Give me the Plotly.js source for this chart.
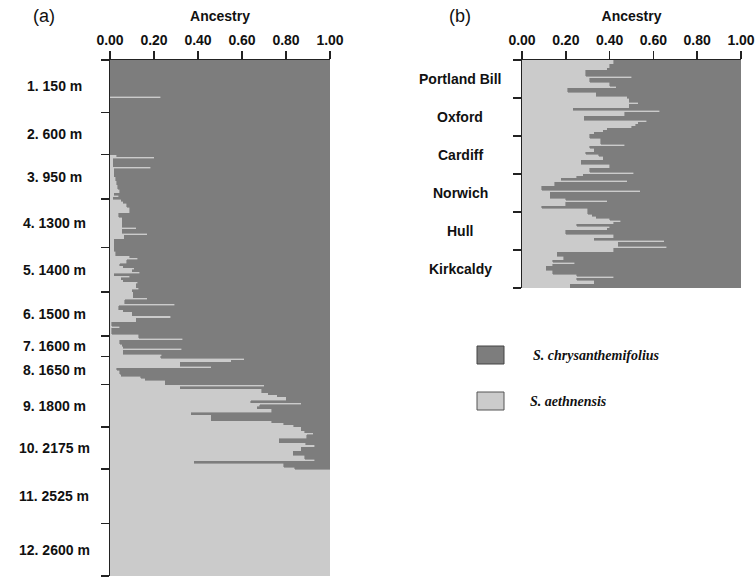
<!DOCTYPE html>
<html><head><meta charset="utf-8">
<script src="https://cdn.plot.ly/plotly-3.0.1.min.js"></script>
<style>html,body{margin:0;padding:0;background:#fff}#chart{width:756px;height:579px}</style>
</head><body><div id="chart"></div>
<script>
// ---- Panel (a): Mt Etna altitudinal transect, S. aethnensis ancestry per individual ----
const groupsA = ["1. 150 m","2. 600 m","3. 950 m","4. 1300 m","5. 1400 m","6. 1500 m","7. 1600 m","8. 1650 m","9. 1800 m","10. 2175 m","11. 2525 m","12. 2600 m"];
const a01 = [0,0,0,0,0,0,0,0,0,0, 0,0,0,0,0,0,0,0,0.23,0, 0,0,0,0,0,0];
const a02 = [0,0,0,0,0,0,0,0,0,0, 0,0,0,0,0,0,0,0,0,0, 0];
const a03 = [0.03,0.20,0.015,0.015,0.015,0.015,0.185,0.02,0.02,0.02, 0.02,0.025,0.025,0.03,0.03,0.035,0.035,0.045,0.045,0.02, 0.04,0.015];
const a04 = [0.05,0.06,0.075,0.075,0.09,0.09,0.09,0.04,0.04,0.055, 0.055,0.055,0.055,0.055,0.12,0.055,0.055,0.17,0.065,0.065, 0.02,0.02,0.02,0.02];
const a05 = [0.02,0.02,0.025,0.025,0.09,0.125,0.075,0.075,0.045,0.06, 0.11,0.10,0.135,0.02,0.09,0.05,0.06,0.125,0.12,0.12, 0.13,0.10];
const a06 = [0.105,0.105,0.105,0.17,0.068,0.068,0.295,0.04,0.04,0.06, 0.10,0.10,0.277,0.12,0.12,0.007,0.007,0.045,0.007,0.007, 0.007,0.13];
const a07 = [0.13,0.33,0.045,0.045,0.055,0.06,0.325,0.06,0.06,0.235];
const a08 = [0.23,0.61,0.55,0.32,0.32,0.46,0.03,0.045,0.045,0.05, 0.14,0.16,0.25,0.25];
const a09 = [0.70,0.32,0.69,0.69,0.72,0.76,0.80,0.80,0.64,0.87, 0.68,0.67,0.735,0.735,0.37,0.46,0.46,0.46,0.735,0.79, 0.835];
const a10 = [0.87,0.87,0.886,0.924,0.894,0.894,0.77,0.77,0.89,0.93, 0.87,0.87,0.833,0.833,0.886,0.886,0.93,0.383,0.79,0.79, 0.84];
const a11 = [1,1,1,1,1,1,1,1,1,1, 1,1,1,1,1,1,1,1,1,1, 1,1,1,1,1,1,1];
const a12 = [1,1,1,1,1,1,1,1,1,1, 1,1,1,1,1,1,1,1,1,1, 1,1,1,1,1,1];

// ---- Panel (b): British S. squalidus populations ----
const popsB = ["Portland Bill","Oxford","Cardiff","Norwich","Hull","Kirkcaldy"];
const b01 = [0.42,0.42,0.40,0.40,0.39,0.29,0.29,0.29,0.50,0.31, 0.31,0.40,0.40,0.43,0.21,0.21,0.34,0.34,0.48];
const b02 = [0.49,0.49,0.53,0.49,0.49,0.235,0.63,0.47,0.47,0.285, 0.285,0.57,0.53,0.52,0.50,0.39,0.37,0.33,0.31];
const b03 = [0.31,0.36,0.36,0.36,0.47,0.31,0.33,0.33,0.29,0.35, 0.37,0.37,0.27,0.27,0.40,0.40,0.31,0.31,0.51];
const b04 = [0.28,0.25,0.18,0.48,0.15,0.15,0.09,0.09,0.54,0.13, 0.13,0.13,0.20,0.39,0.20,0.20,0.09,0.30,0.30];
const b05 = [0.30,0.32,0.34,0.40,0.45,0.42,0.25,0.40,0.39,0.20, 0.20,0.42,0.42,0.33,0.65,0.44,0.44,0.66,0.42];
const b06 = [0.42,0.16,0.16,0.19,0.19,0.14,0.24,0.14,0.11,0.11, 0.14,0.14,0.25,0.42,0.25,0.33,0.33,0.22,0.22];

const xTicks = [0, 0.2, 0.4, 0.6, 0.8, 1.0];
const xTickText = ["0.00","0.20","0.40","0.60","0.80","1.00"];
const speciesNames = ["S. chrysanthemifolius","S. aethnensis"];

const DARK = "#7d7d7d", LIGHT = "#cbcbcb", INK = "#111";

function build(groups){
  const y=[], q=[], rest=[], bounds=[0], centers=[];
  let n=0;
  groups.forEach(g=>{
    const start=n;
    g.forEach(v=>{ y.push(n+0.5); q.push(v); rest.push(1-v); n++; });
    bounds.push(n); centers.push((start+n)/2);
  });
  return {y,q,rest,bounds,centers,n};
}
const A = build([a01,a02,a03,a04,a05,a06,a07,a08,a09,a10,a11,a12]);
const B = build([b01,b02,b03,b04,b05,b06]);

function bars(D, xa, ya){
  return [
    {type:"bar", orientation:"h", x:D.q, y:D.y, width:1, xaxis:xa, yaxis:ya, name:speciesNames[1],
     marker:{color:LIGHT, line:{width:0.6, color:LIGHT}}, showlegend:false, hoverinfo:"skip"},
    {type:"bar", orientation:"h", x:D.rest, y:D.y, width:1, xaxis:xa, yaxis:ya, name:speciesNames[0],
     marker:{color:DARK, line:{width:0.6, color:DARK}}, showlegend:false, hoverinfo:"skip"}
  ];
}
const data = [...bars(A,"x","y"), ...bars(B,"x2","y2")];

const W=756, H=579;
const px = v => v/W, py = v => 1 - v/H;
const fontB = {family:"Liberation Sans, Arial, sans-serif", size:14, color:INK, weight:"bold"};

function xAxis(dom, anchor){
  return {domain:dom, anchor:anchor, side:"top", range:[0,1], tickvals:xTicks, ticktext:xTickText,
    ticks:"outside", ticklen:8, tickwidth:1.5, tickcolor:"#222", showline:true, linecolor:"#222", linewidth:1.5,
    showgrid:false, zeroline:false, tickfont:fontB, fixedrange:true,
    title:{text:"<b>Ancestry</b>", font:fontB, standoff:7}};
}
function yAxis(dom, anchor, D){
  return {domain:dom, anchor:anchor, range:[D.n,0], tickvals:D.bounds, showticklabels:false,
    ticks:"outside", ticklen:8, tickwidth:1.5, tickcolor:"#222", showline:true, linecolor:"#222", linewidth:1.5,
    showgrid:false, zeroline:false, fixedrange:true};
}

const annotations = [];
groupsA.forEach((t,i)=>annotations.push({text:t, xref:"paper", yref:"y", x:px(54), y:A.centers[i], xanchor:"center", yanchor:"middle", showarrow:false, font:fontB}));
popsB.forEach((t,i)=>annotations.push({text:t, xref:"paper", yref:"y2", x:px(460), y:B.centers[i], xanchor:"center", yanchor:"middle", showarrow:false, font:fontB}));
const panelFont = {family:"Liberation Sans, Arial, sans-serif", size:18, color:INK};
annotations.push({text:"(a)", xref:"paper", yref:"paper", x:px(43.5), y:py(16), xanchor:"center", yanchor:"middle", showarrow:false, font:panelFont});
annotations.push({text:"(b)", xref:"paper", yref:"paper", x:px(460.5), y:py(16), xanchor:"center", yanchor:"middle", showarrow:false, font:panelFont});
const legFont = {family:"Liberation Serif, Times New Roman, serif", size:14, color:INK, weight:"bold", style:"italic"};
annotations.push({text:speciesNames[0], xref:"paper", yref:"paper", x:px(531), y:py(355), xanchor:"left", yanchor:"middle", showarrow:false, font:legFont});
annotations.push({text:speciesNames[1], xref:"paper", yref:"paper", x:px(528), y:py(401), xanchor:"left", yanchor:"middle", showarrow:false, font:legFont});

const shapes = [
  {type:"rect", xref:"paper", yref:"paper", x0:px(477), x1:px(504), y0:py(364), y1:py(346), fillcolor:DARK, line:{color:"#444", width:1}},
  {type:"rect", xref:"paper", yref:"paper", x0:px(477), x1:px(504), y0:py(410), y1:py(392), fillcolor:LIGHT, line:{color:"#555", width:1}}
];

const layout = {
  width:W, height:H, margin:{l:0,r:0,t:0,b:0}, paper_bgcolor:"#fff", plot_bgcolor:"#fff",
  barmode:"stack", bargap:0, showlegend:false,
  xaxis: xAxis([px(110), px(330)], "y"),
  yaxis: yAxis([1-576/H, 1-60/H], "x", A),
  xaxis2: xAxis([px(522), px(741)], "y2"),
  yaxis2: yAxis([1-288/H, 1-60/H], "x2", B),
  annotations: annotations, shapes: shapes
};
Plotly.newPlot("chart", data, layout, {displayModeBar:false, staticPlot:true});
</script></body></html>
